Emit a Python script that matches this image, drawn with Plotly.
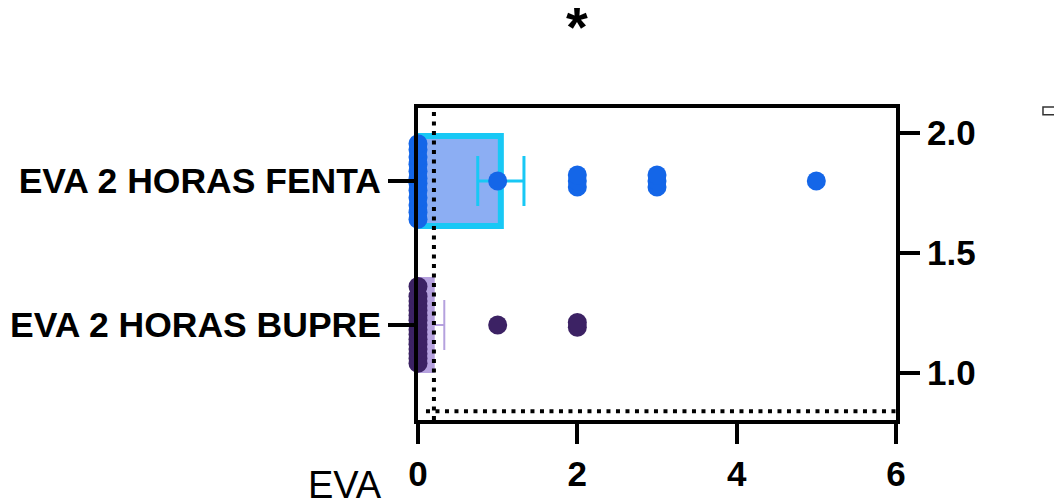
import plotly.graph_objects as go

# ---------------- data ----------------
categories = ["EVA 2 HORAS FENTA", "EVA 2 HORAS BUPRE"]
cat_pos = [1.8, 1.2]
means = [1.04, 0.21]
sems = [0.29, 0.12]

fenta_x = [0, 0, 0, 0, 0, 0, 0, 0, 0, 0, 0, 0, 1, 2, 2, 2, 3, 3, 3, 5]
fenta_y = [1.64, 1.67, 1.70, 1.73, 1.76, 1.79, 1.81, 1.84, 1.87, 1.90, 1.93, 1.955,
           1.80, 1.775, 1.80, 1.825, 1.775, 1.80, 1.825, 1.80]

bupre_x = [0, 0, 0, 0, 0, 0, 0, 0, 0, 0, 0, 0, 0, 0, 0, 0, 1, 2, 2]
bupre_y = [1.04, 1.06, 1.08, 1.10, 1.12, 1.14, 1.16, 1.18, 1.20, 1.22, 1.24, 1.26, 1.28, 1.30,
           1.32, 1.36, 1.20, 1.19, 1.21]

x_ticks = [0, 2, 4, 6]
y_ticks = [1.0, 1.5, 2.0]
y_ticktext = ["1.0", "1.5", "2.0"]
ref_x = 0.2
ref_y = 0.84

# ---------------- styling ----------------
FONT = "Liberation Sans, Arial, Helvetica, sans-serif"
YR = [0.804, 2.104]
BOLD = dict(family=FONT, size=35, color="black", weight="bold")
BOLD_CAT = dict(family=FONT, size=35.5, color="black", weight="bold")

fig = go.Figure()

fig.add_trace(go.Bar(
    x=[means[0]], y=[cat_pos[0]], orientation="h", width=0.375,
    marker=dict(color="#8CAEF3", line=dict(color="#18C8F5", width=6)),
    error_x=dict(type="data", array=[sems[0]], color="#18C8F5", thickness=3, width=25),
    showlegend=False, yaxis="y",
))
fig.add_trace(go.Bar(
    x=[means[1]], y=[cat_pos[1]], orientation="h", width=0.4,
    marker=dict(color="#B5A1DE", line=dict(width=0)),
    error_x=dict(type="data", array=[sems[1]], color="#B5A1DE", thickness=2, width=25),
    showlegend=False, yaxis="y",
))
fig.add_trace(go.Scatter(
    x=fenta_x, y=fenta_y, mode="markers",
    marker=dict(color="#1466E8", size=19, line=dict(width=0)),
    cliponaxis=False, showlegend=False, yaxis="y",
))
fig.add_trace(go.Scatter(
    x=bupre_x, y=bupre_y, mode="markers",
    marker=dict(color="#3C2264", size=19, line=dict(width=0)),
    cliponaxis=False, showlegend=False, yaxis="y",
))
# invisible trace to activate the left category axis
fig.add_trace(go.Scatter(x=[None], y=[None], yaxis="y2", showlegend=False, hoverinfo="skip"))

dot = "4px,5.5px"
fig.add_shape(type="line", xref="x", yref="y", x0=ref_x, x1=ref_x, y0=YR[0], y1=YR[1],
              line=dict(color="black", width=4, dash=dot), layer="above")
fig.add_shape(type="line", xref="x", yref="y", x0=0.1, x1=6, y0=ref_y, y1=ref_y,
              line=dict(color="black", width=4, dash=dot), layer="above")
# small legend box at top right
fig.add_shape(type="rect", xref="paper", yref="paper", x0=1.3075, x1=1.37, y0=0.978, y1=1.003,
              line=dict(color="#333333", width=1.5), fillcolor="white")

fig.add_annotation(text="*", xref="paper", yref="paper", x=0.333, y=1.37,
                   xanchor="center", yanchor="top", showarrow=False,
                   font=dict(family=FONT, size=56, color="black", weight="bold"))
fig.add_annotation(text="EVA", xref="paper", yref="paper", x=-0.153, y=-0.135,
                   xanchor="center", yanchor="top", showarrow=False,
                   font=dict(family=FONT, size=38, color="black"))

fig.update_layout(
    width=1062, height=502,
    margin=dict(l=410, r=174, t=100, b=90),
    paper_bgcolor="white", plot_bgcolor="white",
    font=dict(family=FONT, color="black"),
    barmode="overlay",
    xaxis=dict(range=[0, 6], tickvals=x_ticks, ticks="outside", ticklen=20, tickwidth=4,
               tickcolor="black", showline=True, linewidth=4, linecolor="black", mirror=True,
               showgrid=False, zeroline=False, automargin=False, tickfont=BOLD),
    yaxis=dict(range=YR, side="right", tickvals=y_ticks, ticktext=y_ticktext,
               ticks="outside", ticklen=20, tickwidth=4, tickcolor="black",
               showline=True, linewidth=4, linecolor="black", mirror=True,
               showgrid=False, zeroline=False, automargin=False, tickfont=BOLD),
    yaxis2=dict(range=YR, overlaying="y", side="left", tickvals=cat_pos, ticktext=categories,
                ticks="outside", ticklen=26, tickwidth=4, tickcolor="black",
                showline=True, linewidth=4, linecolor="black",
                showgrid=False, zeroline=False, automargin=False, tickfont=BOLD_CAT),
)

fig.write_html("out.html")
